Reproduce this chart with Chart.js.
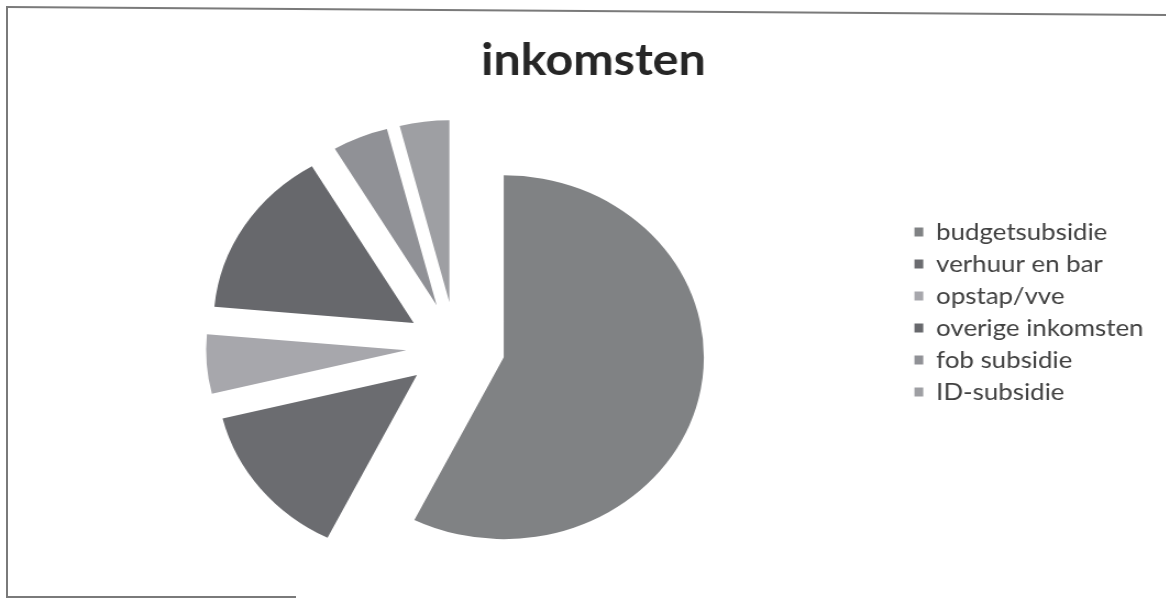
<!DOCTYPE html>
<html>
<head>
<meta charset="utf-8">
<title>inkomsten</title>
<script src="https://cdn.jsdelivr.net/npm/chart.js@4.4.1/dist/chart.umd.min.js"></script>
<style>
  html, body { margin: 0; padding: 0; background: #fff; }
  #wrap { position: relative; width: 1166px; height: 599px; overflow: hidden; }
  #grafiek { position: absolute; left: 0; top: 0; }
  .rand { position: absolute; background: #7a7a7a; }
  #rand_links { left: 6px; top: 6px; width: 2px; height: 592px; }
  #rand_boven { left: 6px; top: 6px; width: 1170px; height: 2px; transform: rotate(0.4deg); transform-origin: 0 0; }
  #rand_onder { left: 6px; top: 596px; width: 290px; height: 2px; }
</style>
</head>
<body>
<div id="wrap">
  <!-- de scan is horizontaal iets uitgerekt (x 1.1), dus het canvas ook -->
  <canvas id="grafiek" width="1074" height="599" style="width:1181.4px;height:599px"></canvas>
  <div class="rand" id="rand_links"></div>
  <div class="rand" id="rand_boven"></div>
  <div class="rand" id="rand_onder"></div>
</div>
<script>
var titel = 'inkomsten';
var labels = ['budgetsubsidie', 'verhuur en bar', 'opstap/vve', 'overige inkomsten', 'fob subsidie', 'ID-subsidie'];
var waarden = [57.4, 13.8, 5.25, 15.1, 4.5, 4.0];
var kleuren = ['#808284', '#6b6c70', '#a7a7ac', '#67686c', '#909196', '#9e9fa3'];
var uitsprong = 45; // hoe ver de stukken uit elkaar staan

// alle stukken een stukje naar buiten schuiven (exploded pie)
const explode = {
  id: 'explode',
  afterDatasetUpdate: function (chart, args) {
    var meta = chart.getDatasetMeta(args.index);
    meta.data.forEach(function (arc) {
      var mid = (arc.startAngle + arc.endAngle) / 2;
      arc.x += uitsprong * Math.cos(mid);
      arc.y += uitsprong * Math.sin(mid);
    });
  }
};

var ctx = document.getElementById('grafiek').getContext('2d');
var grafiek = new Chart(ctx, {
  type: 'pie',
  data: {
    labels: labels,
    datasets: [{
      data: waarden,
      backgroundColor: kleuren,
      borderWidth: 0
    }]
  },
  options: {
    responsive: false,
    animation: false,
    events: [],
    radius: 182,
    layout: { padding: { left: 5.5, right: 0, top: 25, bottom: 0 } },
    plugins: {
      title: {
        display: true,
        text: titel,
        color: '#262626',
        font: { family: 'Lato', size: 44, weight: 'bold' },
        padding: { top: 9, bottom: 8 }
      },
      legend: {
        position: 'right',
        fullSize: true,
        labels: {
          color: '#404040',
          font: { family: 'Lato', size: 23.5 },
          boxWidth: 8,
          boxHeight: 9,
          padding: 8.5,
          // wat lege ruimte achter de tekst, zodat de legenda net zo breed is als in Excel
          generateLabels: function (chart) {
            var items = Chart.overrides.pie.plugins.legend.labels.generateLabels(chart);
            items.forEach(function (item) {
              item.text = item.text + '\u00a0\u00a0\u00a0\u00a0';
            });
            return items;
          }
        }
      },
      tooltip: { enabled: false }
    }
  },
  plugins: [explode]
});
</script>
</body>
</html>
